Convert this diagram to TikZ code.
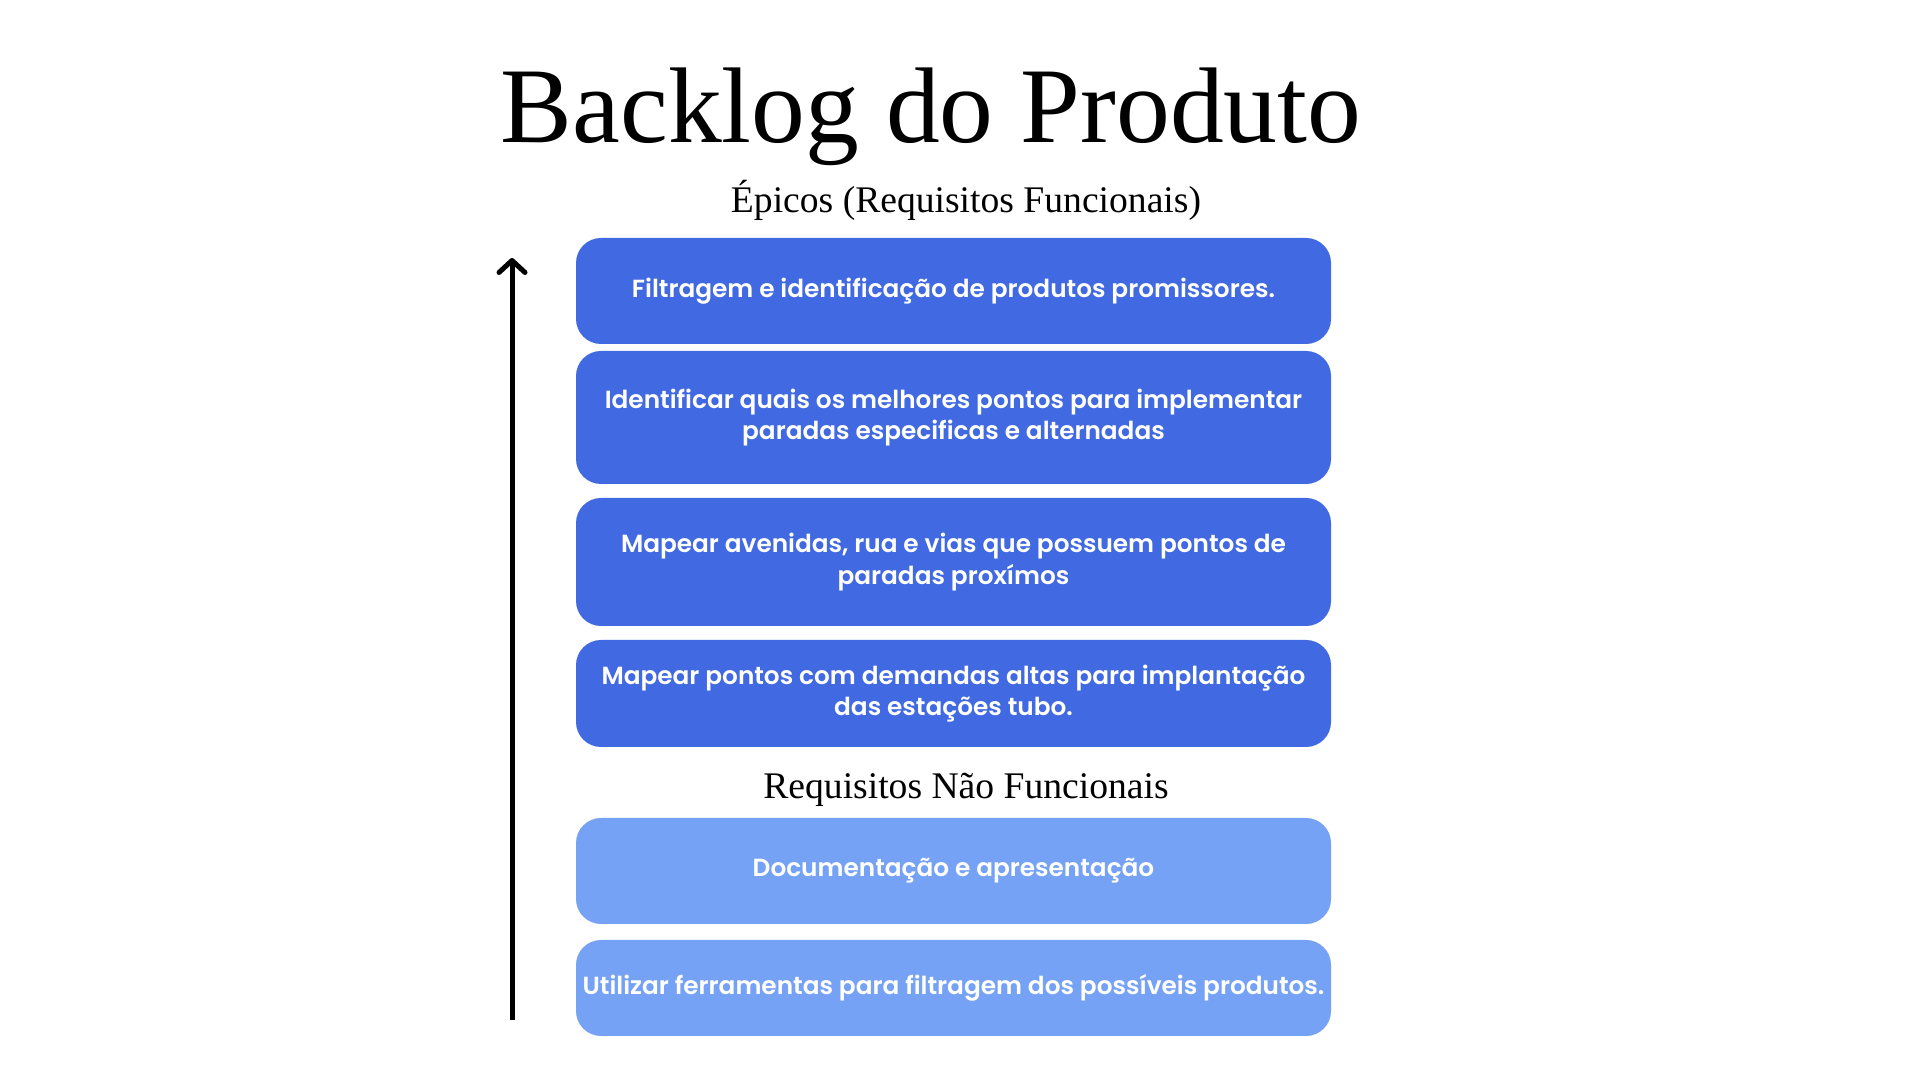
\documentclass[tikz,border=0pt]{standalone}
\usepackage{fontspec}
\setmainfont{Liberation Serif}
\newfontfamily\boxfont{Poppins}[UprightFont=* SemiBold,BoldFont=* Bold]
\usetikzlibrary{arrows.meta,positioning}
\definecolor{epicblue}{HTML}{4169E1}
\definecolor{nfblue}{HTML}{76A2F6}
\tikzset{
  reqbox/.style={rounded corners=0.25cm,minimum width=7.55cm,align=center,
    text=white,font=\boxfont\fontsize{7.05}{8.9}\selectfont,inner sep=0pt},
  epic/.style={reqbox,fill=epicblue},
  nfreq/.style={reqbox,fill=nfblue},
}
\begin{document}
\begin{tikzpicture}
  \useasboundingbox[fill=white] (0,0) rectangle (19.2,10.8);

  % Title and section headings
  \node (title) at (9.31,9.63) {\fontsize{30.6}{36}\selectfont Backlog do Produto};
  \node (epics) at (9.66,8.80) {\fontsize{10.7}{12}\selectfont Épicos (Requisitos Funcionais)};
  \node (nonfunc) at (9.66,2.90) {\fontsize{10.7}{12}\selectfont Requisitos Não Funcionais};

  % Epic boxes
  \node [epic,minimum height=1.06cm] (e1) at (9.535,7.89) {Filtragem e identificação de produtos promissores.};
  \node [epic,minimum height=1.33cm] (e2) at (9.535,6.625) {Identificar quais os melhores pontos para implementar\\paradas especificas e alternadas};
  \node [epic,minimum height=1.28cm] (e3) at (9.535,5.18) {Mapear avenidas, rua e vias que possuem pontos de\\paradas proxímos};
  \node [epic,minimum height=1.07cm] (e4) at (9.535,3.865) {Mapear pontos com demandas altas para implantação\\das estações tubo.};

  % Non-functional boxes
  \node [nfreq,minimum height=1.06cm] (n1) at (9.535,2.09) {Documentação e apresentação};
  \node [nfreq,minimum height=0.96cm] (n2) at (9.535,0.92) {Utilizar ferramentas para filtragem dos possíveis produtos.};

  % Priority arrow
  \coordinate (low) at (5.12,0.60);
  \coordinate (high) at (5.12,8.22);
  \draw [line width=0.05cm,-{Straight Barb[length=0.12cm,width=0.26cm,line cap=round,line join=round]}] (low) -- (high);
\end{tikzpicture}
\end{document}
